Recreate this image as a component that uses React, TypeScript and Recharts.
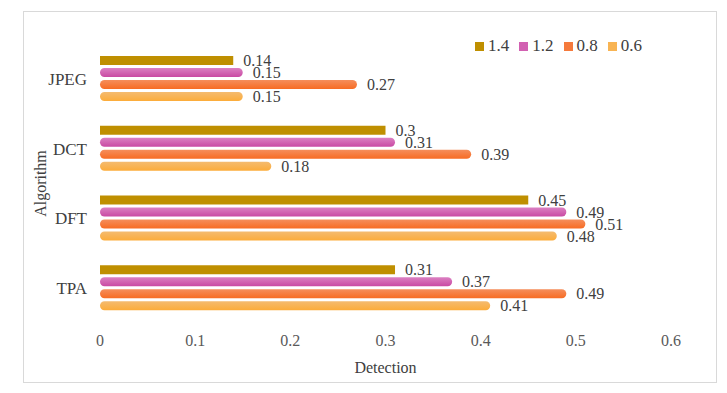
import React from "react";
import { Bar, BarChart, Label, LabelList, XAxis, YAxis } from "recharts";

const categories = ["JPEG", "DCT", "DFT", "TPA"];
const seriesNames = ["1.4", "1.2", "0.8", "0.6"];
const values14 = [0.14, 0.3, 0.45, 0.31];
const values12 = [0.15, 0.31, 0.49, 0.37];
const values08 = [0.27, 0.39, 0.51, 0.49];
const values06 = [0.15, 0.18, 0.48, 0.41];
const xTicks = [0, 0.1, 0.2, 0.3, 0.4, 0.5, 0.6];

const FONT = "Liberation Serif, DejaVu Serif, serif";

// styling per series (top colour, bottom colour, rounded or not)
const seriesStyle = [
  { key: "s14", top: "#bf8f00", bottom: "#bf8f00", swatch: "#bf8f00", radius: 0 },
  { key: "s12", top: "#db80c2", bottom: "#c94aa3", swatch: "#d261b2", radius: 4.5 },
  { key: "s08", top: "#f58e5c", bottom: "#f76c24", swatch: "#f57a3c", radius: 4.5 },
  { key: "s06", top: "#f4bb70", bottom: "#fcac3a", swatch: "#f8b453", radius: 4.5 },
];

const data = categories.map((name, i) => ({
  name,
  s14: values14[i],
  s12: values12[i],
  s08: values08[i],
  s06: values06[i],
}));

const fmt = (v: number) => String(v);

const AlgorithmLabel = (props: any) => {
  const vb = props.viewBox || {};
  const x = 40;
  const y = (vb.y ?? 44) + (vb.height ?? 279) / 2;
  return (
    <text
      x={x}
      y={y}
      transform={`rotate(-90, ${x}, ${y})`}
      textAnchor="middle"
      dominantBaseline="central"
      fill="#404040"
      fontSize={16}
      fontFamily={FONT}
    >
      Algorithm
    </text>
  );
};

export default function App() {
  return (
    <div style={{ position: "absolute", left: 0, top: 0, width: 727, height: 393, background: "#fff" }}>
      <div
        style={{
          position: "absolute",
          left: 23,
          top: 11,
          width: 692,
          height: 370,
          border: "1px solid #d9d9d9",
        }}
      />
      <div style={{ position: "absolute", left: 0, top: 0 }}>
        <BarChart
          width={727}
          height={393}
          data={data}
          layout="vertical"
          margin={{ top: 44, right: 56, bottom: 20, left: 22 }}
          barSize={9}
          barGap={3}
        >
          <defs>
            {seriesStyle.map((s) => (
              <linearGradient key={s.key} id={`grad-${s.key}`} x1="0" y1="0" x2="0" y2="1">
                <stop offset="0%" stopColor={s.top} />
                <stop offset="100%" stopColor={s.bottom} />
              </linearGradient>
            ))}
          </defs>
          <XAxis
            type="number"
            domain={[0, 0.6]}
            ticks={xTicks}
            axisLine={false}
            tickLine={false}
            tickMargin={6}
            height={50}
            tick={{ fill: "#595959", fontSize: 16, fontFamily: FONT }}
          >
            <Label
              value="Detection"
              position="insideBottom"
              offset={0}
              fill="#404040"
              fontSize={16}
              fontFamily={FONT}
            />
          </XAxis>
          <YAxis
            type="category"
            dataKey="name"
            width={78}
            axisLine={false}
            tickLine={false}
            tickMargin={7}
            tick={{ fill: "#404040", fontSize: 17, fontFamily: FONT }}
          >
            <Label content={AlgorithmLabel} />
          </YAxis>
          {seriesStyle.map((s, i) => (
            <Bar
              key={s.key}
              dataKey={s.key}
              name={seriesNames[i]}
              fill={`url(#grad-${s.key})`}
              radius={s.radius}
              isAnimationActive={false}
            >
              <LabelList
                dataKey={s.key}
                position="right"
                offset={10}
                formatter={fmt}
                fill="#404040"
                fontSize={16}
                fontFamily={FONT}
              />
            </Bar>
          ))}
        </BarChart>
      </div>
      {/* legend, top right */}
      <div
        style={{
          position: "absolute",
          left: 475,
          top: 36,
          display: "flex",
          alignItems: "center",
          fontFamily: FONT,
          fontSize: 17,
          color: "#404040",
        }}
      >
        {seriesStyle.map((s, i) => (
          <div key={s.key} style={{ display: "flex", alignItems: "center", marginRight: 10 }}>
            <span style={{ display: "inline-block", width: 9, height: 9, background: s.swatch, marginRight: 4 }} />
            <span>{seriesNames[i]}</span>
          </div>
        ))}
      </div>
    </div>
  );
}
